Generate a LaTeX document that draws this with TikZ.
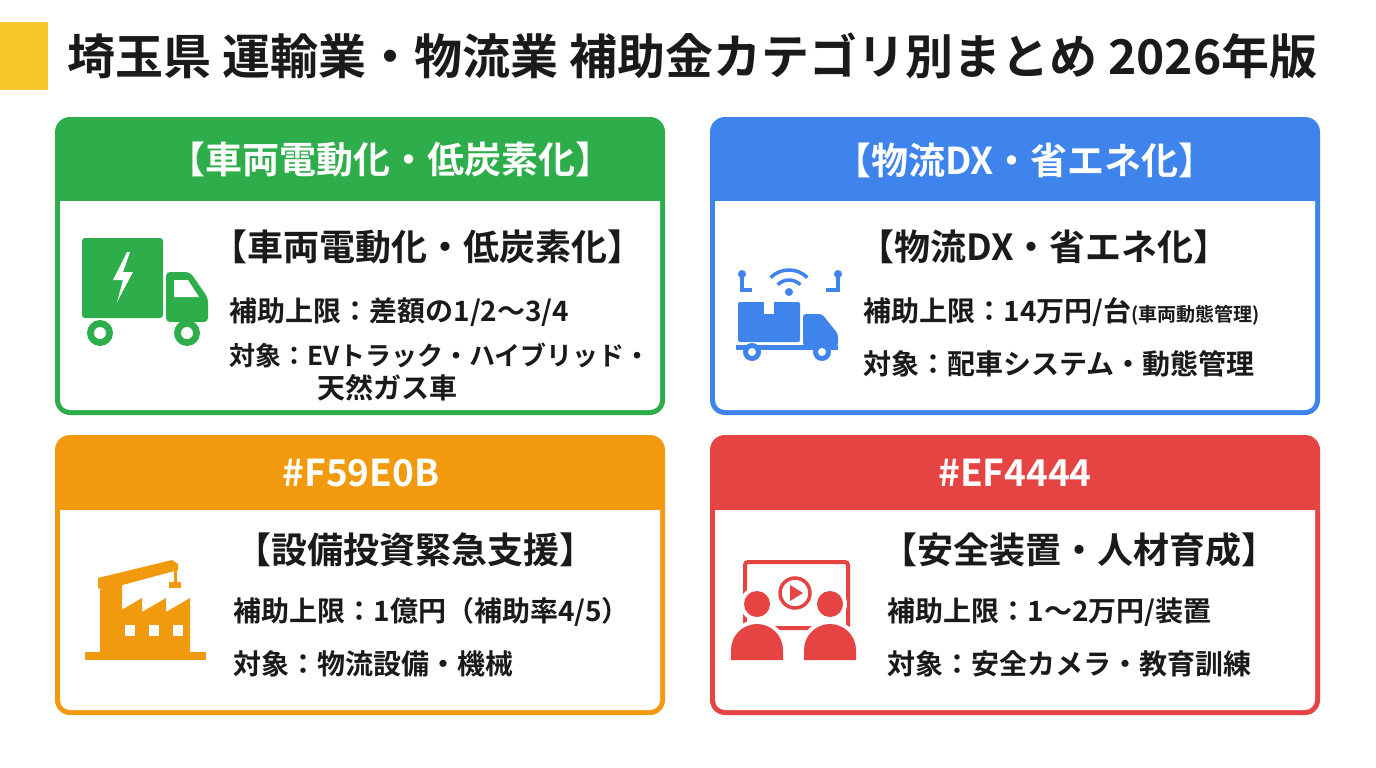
\documentclass[tikz,border=0pt]{standalone}
\usepackage{fontspec}
\setmainfont{Noto Sans CJK JP}[BoldFont={* Bold}]
\definecolor{cg}{HTML}{2EAD4B}
\definecolor{cb}{HTML}{3F84EC}
\definecolor{co}{HTML}{F29A0E}
\definecolor{cr}{HTML}{E64343}
\definecolor{cy}{HTML}{F7C52A}
\definecolor{tx}{HTML}{1A1A1A}
\tikzset{
 hd/.style={text=white,font=\bfseries\fontsize{37}{40}\selectfont},
 ttl/.style={anchor=west,text=tx,font=\bfseries\fontsize{36}{40}\selectfont},
 ln/.style={anchor=west,text=tx,font=\bfseries\fontsize{28}{32}\selectfont},
}
\newcommand{\card}[6]{% x1 y1 x2 y2 headerbottom color
 \fill[#6,rounded corners=15] (#1,#2) rectangle (#3,#4);
 \fill[white] (#1+5,#5) [rounded corners=10]-- (#1+5,#4-5) -- (#3-5,#4-5) [sharp corners]-- (#3-5,#5) -- cycle;
}
\begin{document}
\begin{tikzpicture}[x=1pt,y=-1pt]
\useasboundingbox[fill=white] (0,0) rectangle (1376,768);
\fill[cy] (0,22) rectangle (48,90);
\node[anchor=west,text=tx,font=\bfseries\fontsize{48}{52}\selectfont] (title) at (64,56) {埼玉県 運輸業・物流業 補助金カテゴリ別まとめ 2026年版};
\card{55}{117}{665}{415}{201}{cg}
\card{710}{117}{1320}{415}{201}{cb}
\card{55}{435}{665}{715}{510}{co}
\card{710}{435}{1320}{715}{510}{cr}
\node[hd] (h1) at (390,160) {【車両電動化・低炭素化】};
\node[hd] (h2) at (1025,160) {【物流DX・省エネ化】};
\node[hd] (h3) at (361,473) {\#F59E0B};
\node[hd] (h4) at (1015,473) {\#EF4444};
% green body
\node[ttl] (t1) at (208,247) {【車両電動化・低炭素化】};
\node[ln] (a1) at (226,312) {補助上限：差額の1/2～3/4};
\node[ln,font=\bfseries\fontsize{26}{30}\selectfont] (b1) at (226,355) {対象：EVトラック・ハイブリッド・};
\node[ln] (c1) at (314,388) {天然ガス車};
% blue body
\node[ttl] (t2) at (855,247) {【物流DX・省エネ化】};
\node[ln] (a2) at (860,312) {補助上限：14万円/台{\fontsize{19}{22}\selectfont(車両動態管理)}};
\node[ln] (b2) at (860,364) {対象：配車システム・動態管理};
% orange body
\node[ttl] (t3) at (232,550) {【設備投資緊急支援】};
\node[ln] (a3) at (230,612) {補助上限：1億円（補助率4/5）};
\node[ln] (b3) at (230,664) {対象：物流設備・機械};
% red body
\node[ttl] (t4) at (878,550) {【安全装置・人材育成】};
\node[ln] (a4) at (884,612) {補助上限：1～2万円/装置};
\node[ln] (b4) at (884,664) {対象：安全カメラ・教育訓練};
% green truck icon
\fill[cg,rounded corners=3] (82,238) rectangle (163,318);
\fill[cg,rounded corners=4] (166,272) -- (190,272) -- (208,298) -- (208,322) -- (166,322) -- cycle;
\fill[white] (174,280) -- (188,280) -- (199,297) -- (174,297) -- cycle;
\fill[white] (127,252) -- (113,280) -- (123,280) -- (117,302) -- (133,272) -- (123,272) -- (130,252) -- cycle;
\foreach \x in {100,187}{\fill[cg] (\x,333) circle (13); \fill[white] (\x,333) circle (6);}
% blue truck icon
\begin{scope}[cb,line width=3.5]
\draw (770.6,277.6) arc[start angle=225,end angle=315,radius=26];
\draw (777.7,284.7) arc[start angle=225,end angle=315,radius=16];
\fill (789,292) circle (4);
\draw (742,276) -- (742,290) -- (752,290);
\draw (838,276) -- (838,290) -- (826,290);
\fill (742,274) circle (4); \fill (838,274) circle (4);
\end{scope}
\fill[cb,rounded corners=2] (738,302) rectangle (800,342);
\fill[white] (764,302) rectangle (774,314);
\fill[cb,rounded corners=3] (803,314) -- (822,314) -- (838,334) -- (838,346) -- (803,346) -- cycle;
\fill[cb] (736,345) rectangle (838,350);
\foreach \x in {752,822}{\fill[cb] (\x,352) circle (9); \fill[white] (\x,352) circle (4);}
% orange factory icon
\fill[co] (85,652) rectangle (206,660);
\fill[co] (100,652) -- (100,590) -- (122,575) -- (122,652) -- cycle;
\fill[co] (118,652) -- (118,612) -- (142,598) -- (142,612) -- (166,598) -- (166,612) -- (190,598) -- (190,652) -- cycle;
\fill[co] (98,588) -- (98,578) -- (172,560) -- (178,564) -- (178,570) -- (104,590) -- cycle;
\draw[co,line width=3] (175,568) -- (175,582);
\fill[co] (169,582) rectangle (181,588);
\foreach \x in {130,154,178}{\fill[white] (\x-5,625) rectangle (\x+5,636);}
% red video icon
\draw[cr,line width=4,rounded corners=3] (745,562) rectangle (848,628);
\draw[cr,line width=3.5] (795,593) circle (15);
\fill[cr] (790,585) -- (790,601) -- (803,593) -- cycle;
\foreach \x in {757,830}{
 \fill[white] (\x,604) circle (17);
 \fill[cr] (\x,604) circle (13);
 \fill[white] (\x-30,660) -- (\x-30,650) arc[start angle=180,end angle=360,radius=30] -- (\x+30,660) -- cycle;
 \fill[cr] (\x-26,660) -- (\x-26,650) arc[start angle=180,end angle=360,radius=26] -- (\x+26,660) -- cycle;
}
\end{tikzpicture}
\end{document}
